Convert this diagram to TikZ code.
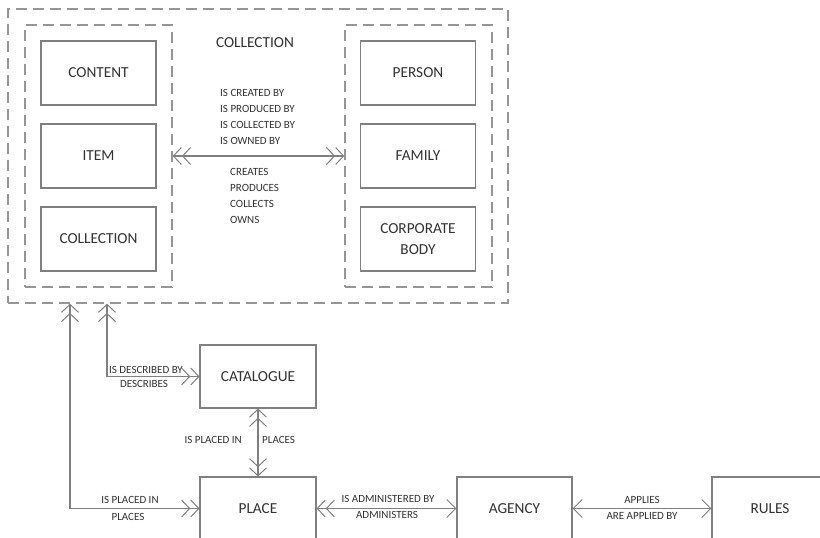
\documentclass[tikz,border=0pt]{standalone}
\usepackage{fontspec}
\setmainfont{Carlito}
\usetikzlibrary{arrows.meta}
\definecolor{linec}{RGB}{128,128,128}
\definecolor{dashc}{RGB}{150,150,150}
\definecolor{txtc}{RGB}{50,50,50}
\tikzset{
  chev/.tip={Straight Barb[length=9pt,width=18pt,line width=1pt]},
  dchev/.tip={Straight Barb[length=8pt,width=17pt,line width=1pt] Straight Barb[length=8pt,width=17pt,line width=1pt]},
  ent/.style={draw=linec, line width=1.1pt, minimum width=115pt, minimum height=64pt,
    inner sep=0pt, text=txtc, font=\fontsize{15.3}{18}\selectfont, align=center},
  grp/.style={draw=dashc, line width=1.4pt, dash pattern=on 11pt off 6pt, inner sep=0pt},
  lab/.style={text=txtc, font=\fontsize{11}{16}\selectfont, inner sep=0pt},
  conn/.style={draw=linec, line width=1.1pt}
}
\begin{document}
\begin{tikzpicture}[x=1pt,y=-1pt]
\useasboundingbox (0,0) rectangle (820,538);
\fill[white] (0,0) rectangle (820,538);
% groups
\node[grp, minimum width=500pt, minimum height=294pt] (outer) at (258,156) {};
\node[grp, minimum width=147pt, minimum height=262pt] (gl) at (98.5,156) {};
\node[grp, minimum width=147pt, minimum height=262pt] (gr) at (418.5,156) {};
% entities
\node[ent] (content) at (98.5,73) {CONTENT};
\node[ent] (item) at (98.5,156) {ITEM};
\node[ent] (coll) at (98.5,239) {COLLECTION};
\node[ent] (person) at (418,73) {PERSON};
\node[ent] (family) at (418,156) {FAMILY};
\node[ent] (corp) at (418,239) {CORPORATE\\[3pt]BODY};
\node[lab, font=\fontsize{15.3}{18}\selectfont] (title) at (255,43) {COLLECTION};
\node[ent, minimum width=116pt, minimum height=63pt] (cat) at (258,376.5) {CATALOGUE};
\node[ent, minimum width=116pt, minimum height=63pt] (place) at (258,508.5) {PLACE};
\node[ent, minimum width=115pt, minimum height=63pt] (agency) at (514.5,508.5) {AGENCY};
\node[ent, minimum width=116pt, minimum height=63pt] (rules) at (770,508.5) {RULES};
% connectors
\coordinate (v1) at (70,0);
\coordinate (v2) at (107,0);
\draw[conn, dchev-dchev] (gl.east |- item) -- (gr.west |- item);
\draw[conn, dchev-dchev] (outer.south -| v1) |- (place.west);
\draw[conn, dchev-dchev] (outer.south -| v2) |- (cat.west);
\draw[conn, dchev-dchev] (cat.south) -- (place.north);
\draw[conn, dchev-chev] (place.east) -- (agency.west);
\draw[conn, chev-chev] (agency.east) -- (rules.west);
% labels
\node[lab, align=left, anchor=west] (up) at (220,117) {IS CREATED BY\\IS PRODUCED BY\\IS COLLECTED BY\\IS OWNED BY};
\node[lab, align=left, anchor=west] (down) at (230,196) {CREATES\\PRODUCES\\COLLECTS\\OWNS};
\node[lab] (isdesc) at (146,370) {IS DESCRIBED BY};
\node[lab] (desc) at (144,384) {DESCRIBES};
\node[lab, anchor=east] (ispl1) at (242,440) {IS PLACED IN};
\node[lab, anchor=west] (pl1) at (262,440) {PLACES};
\node[lab] (ispl2) at (130,500) {IS PLACED IN};
\node[lab] (pl2) at (128,517) {PLACES};
\node[lab] (isadm) at (388,499) {IS ADMINISTERED BY};
\node[lab] (adm) at (387,515) {ADMINISTERS};
\node[lab] (appl) at (642,500) {APPLIES};
\node[lab] (areappl) at (642,516) {ARE APPLIED BY};
\end{tikzpicture}
\end{document}
